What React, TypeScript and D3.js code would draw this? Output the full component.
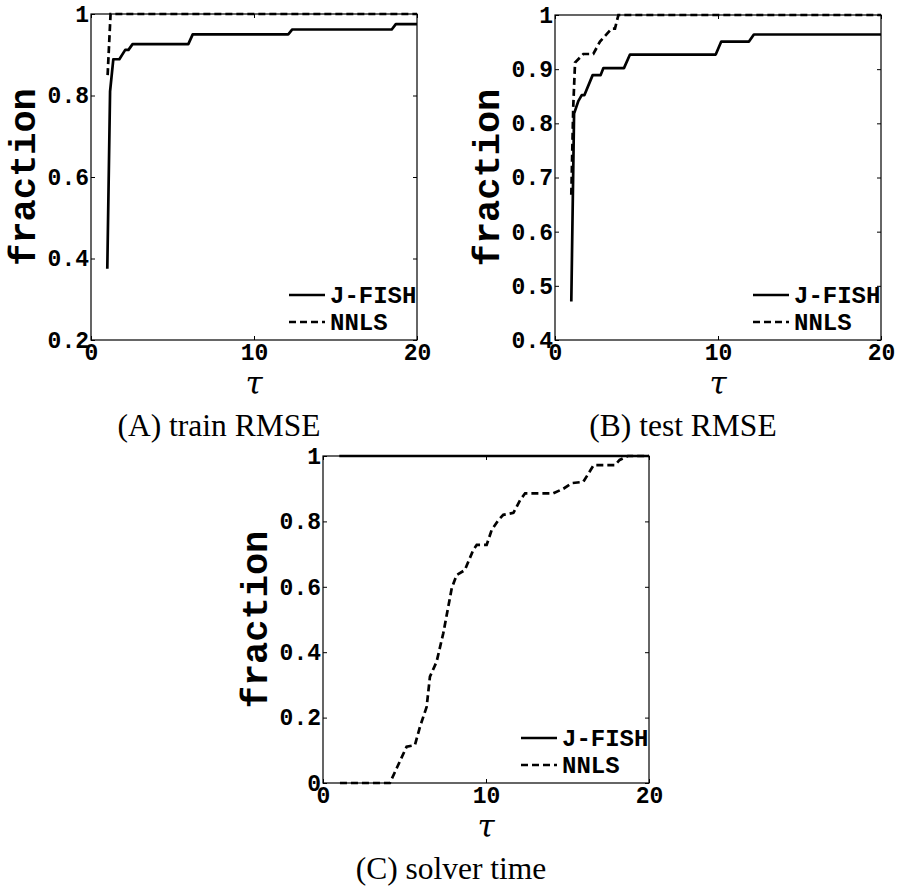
import React, { useEffect, useRef } from "react";
import * as d3 from "d3";

type Pt = [number, number];

// tau axis shared by all panels
const xTicks = [0, 10, 20];
const xTickLabels = ["0", "10", "20"];

const seriesNames = ["J-FISH", "NNLS"];

// (A) train RMSE
const trainTicks = [0.2, 0.4, 0.6, 0.8, 1];
const trainTickLabels = ["0.2", "0.4", "0.6", "0.8", "1"];
const trainJFish: Pt[] = [
  [1.0, 0.375], [1.17, 0.81], [1.37, 0.889], [1.74, 0.889], [2.1, 0.912], [2.3, 0.912],
  [2.55, 0.926], [5.97, 0.926], [6.24, 0.95], [12.1, 0.95], [12.35, 0.962], [18.45, 0.962],
  [18.7, 0.975], [20, 0.975],
];
const trainNNLS: Pt[] = [[1.02, 0.85], [1.2, 1.0], [20, 1.0]];

// (B) test RMSE
const testTicks = [0.4, 0.5, 0.6, 0.7, 0.8, 0.9, 1];
const testTickLabels = ["0.4", "0.5", "0.6", "0.7", "0.8", "0.9", "1"];
const testJFish: Pt[] = [
  [1.0, 0.471], [1.17, 0.818], [1.43, 0.841], [1.64, 0.852], [1.8, 0.852], [2.31, 0.889],
  [2.8, 0.889], [2.97, 0.902], [4.23, 0.902], [4.6, 0.927], [9.86, 0.927], [10.2, 0.951],
  [11.9, 0.951], [12.2, 0.964], [20, 0.964],
];
const testNNLS: Pt[] = [
  [1.0, 0.668], [1.12, 0.831], [1.23, 0.912], [1.74, 0.928], [2.35, 0.928], [2.76, 0.951],
  [3.48, 0.975], [3.68, 0.975], [3.89, 1.0], [20, 1.0],
];

// (C) solver time
const timeTicks = [0, 0.2, 0.4, 0.6, 0.8, 1];
const timeTickLabels = ["0", "0.2", "0.4", "0.6", "0.8", "1"];
const timeJFish: Pt[] = [[1.0, 1], [20, 1]];
const timeNNLS: Pt[] = [
  [1.04, 0], [4.1, 0], [4.52, 0.045], [5.13, 0.111], [5.64, 0.116], [5.95, 0.172],
  [6.36, 0.233], [6.56, 0.325], [6.97, 0.371], [7.38, 0.458], [7.9, 0.596], [8.2, 0.636],
  [8.7, 0.651], [9.22, 0.713], [9.43, 0.728], [10.04, 0.728], [10.35, 0.774], [10.76, 0.804],
  [11.06, 0.82], [11.68, 0.826], [12.09, 0.865], [12.4, 0.886], [14.13, 0.886], [14.75, 0.9],
  [15.26, 0.917], [15.97, 0.921], [16.6, 0.972], [17.9, 0.972], [18.2, 0.988], [18.7, 1.0],
  [20, 1.0],
];

const MONO = "'Liberation Mono', 'Courier New', monospace";
const SERIF = "'Liberation Serif', 'Times New Roman', serif";
const STROKE = 2.7;
const DASH = "7,4";

type PanelProps = {
  left: number; top: number; right: number; bottom: number;
  yDomain: [number, number]; yTicks: number[]; yTickLabels: string[];
  jfish: Pt[]; nnls: Pt[]; caption: string;
};

function Panel(p: PanelProps) {
  const axRef = useRef<SVGGElement | null>(null);
  const x = d3.scaleLinear().domain([0, 20]).range([p.left, p.right]);
  const y = d3.scaleLinear().domain(p.yDomain).range([p.bottom, p.top]);

  useEffect(() => {
    const g = d3.select(axRef.current);
    g.selectAll("*").remove();
    const style = (sel: any) => {
      sel.select(".domain").remove();
      sel.attr("font-family", MONO).attr("font-size", 23).attr("font-weight", "bold");
      sel.selectAll("text").attr("fill", "#000");
      sel.selectAll("line").attr("stroke", "#000");
    };
    g.append("g").attr("transform", `translate(0,${p.bottom})`)
      .call(d3.axisBottom(x).tickValues(xTicks).tickFormat((_, i) => xTickLabels[i])
        .tickSizeInner(-4).tickSizeOuter(0).tickPadding(4) as any)
      .call(style);
    g.append("g").attr("transform", `translate(0,${p.top})`)
      .call(d3.axisTop(x).tickValues(xTicks).tickFormat(() => "").tickSizeInner(-4).tickSizeOuter(0) as any)
      .call(style);
    g.append("g").attr("transform", `translate(${p.left},0)`)
      .call(d3.axisLeft(y).tickValues(p.yTicks).tickFormat((_, i) => p.yTickLabels[i])
        .tickSizeInner(-4).tickSizeOuter(0).tickPadding(2) as any)
      .call(style);
    g.append("g").attr("transform", `translate(${p.right},0)`)
      .call(d3.axisRight(y).tickValues(p.yTicks).tickFormat(() => "").tickSizeInner(-4).tickSizeOuter(0) as any)
      .call(style);
  });

  const line = d3.line<Pt>().x(d => x(d[0])).y(d => y(d[1]));
  const cx = (p.left + p.right) / 2;
  const cy = (p.top + p.bottom) / 2;
  const legX = p.right - 86;
  const legY = [p.bottom - 45, p.bottom - 18];

  return (
    <g>
      <g ref={axRef} />
      <rect x={p.left} y={p.top} width={p.right - p.left} height={p.bottom - p.top}
        fill="none" stroke="#000" strokeWidth={1.2} />
      <path d={line(p.jfish) || ""} fill="none" stroke="#000" strokeWidth={STROKE} strokeLinejoin="round" />
      <path d={line(p.nnls) || ""} fill="none" stroke="#000" strokeWidth={STROKE} strokeDasharray={DASH} />
      {seriesNames.map((name, i) => (
        <g key={name}>
          <line x1={legX - 42} x2={legX - 6} y1={legY[i]} y2={legY[i]} stroke="#000"
            strokeWidth={STROKE} strokeDasharray={i === 1 ? DASH : undefined} />
          <text x={legX - 1} y={legY[i]} dy="0.35em" fontFamily={MONO} fontSize={24}
            fontWeight="bold">{name}</text>
        </g>
      ))}
      <text transform={`translate(${p.left - 56},${cy}) rotate(-90)`} textAnchor="middle"
        fontFamily={MONO} fontSize={37} fontWeight="bold">fraction</text>
      <text x={cx} y={p.bottom + 54} textAnchor="middle" fontFamily="'DejaVu Serif', serif"
        fontStyle="italic" fontSize={31}>τ</text>
      <text x={p.left + 128} y={p.bottom + 96} textAnchor="middle" fontFamily={SERIF}
        fontSize={31.5}>{p.caption}</text>
    </g>
  );
}

export default function App() {
  return (
    <svg width={897} height={888} style={{ position: "absolute", left: 0, top: 0, background: "#fff" }}>
      <rect width={897} height={888} fill="#fff" />
      <Panel left={91} top={14} right={417} bottom={340} yDomain={[0.2, 1]}
        yTicks={trainTicks} yTickLabels={trainTickLabels} jfish={trainJFish} nnls={trainNNLS}
        caption="(A) train RMSE" />
      <Panel left={555} top={15} right={881} bottom={340} yDomain={[0.4, 1]}
        yTicks={testTicks} yTickLabels={testTickLabels} jfish={testJFish} nnls={testNNLS}
        caption="(B) test RMSE" />
      <Panel left={323} top={456} right={649} bottom={783} yDomain={[0, 1]}
        yTicks={timeTicks} yTickLabels={timeTickLabels} jfish={timeJFish} nnls={timeNNLS}
        caption="(C) solver time" />
    </svg>
  );
}
